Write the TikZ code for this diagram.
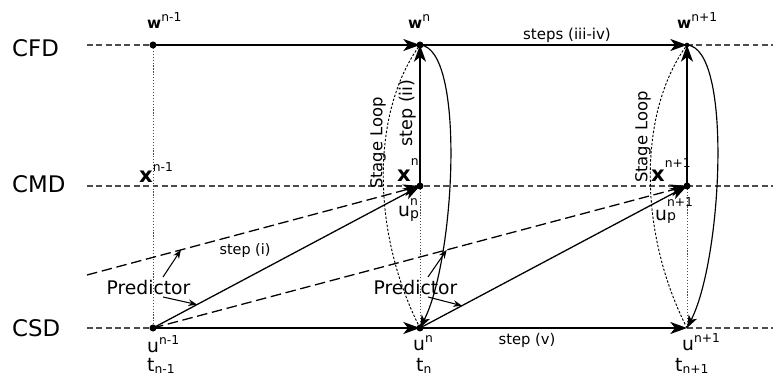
\documentclass[tikz,border=0pt]{standalone}
\usepackage{fontspec}
\setmainfont{DejaVu Sans}
\usetikzlibrary{arrows.meta,calc}

\newcommand{\tam}[1]{\fontsize{#1}{#1}\selectfont}
\newcommand{\wlbl}[1]{{\tam{13}\bfseries w}\raisebox{6pt}{\tam{10.5}#1}}
\newcommand{\xlbl}[2]{{\tam{18}\bfseries x}\raisebox{#2}{\tam{10.5}#1}}
\newcommand{\ulbl}[1]{{\tam{16}u}\raisebox{7.5pt}{\tam{10.5}#1}}
\newcommand{\tlbl}[1]{{\tam{16}t}\raisebox{-1pt}{\tam{10.5}#1}}
\newcommand{\uplbl}[3]{{\tam{16}u}\rlap{\raisebox{#3}{\tam{12}p}}\raisebox{#2}{\tam{10.5}#1}}

\begin{document}
\begin{tikzpicture}[x=0.03cm,y=-0.03cm,
	flecha/.style={line width=1.4pt,-{Stealth[length=5mm,width=3.6mm,inset=1.4mm]}},
	guia/.style={gray!60!black,line width=0.9pt,dash pattern=on 5pt off 3pt},
	prediccion/.style={line width=1.1pt,dash pattern=on 9pt off 4pt},
	punteada/.style={gray!60!black,line width=0.7pt,dash pattern=on 1pt off 1.5pt},
	lazo/.style={line width=1pt,-{Stealth[length=3.8mm,width=2.8mm,inset=1mm]}},
	puntero/.style={line width=0.9pt,-{Stealth[length=2.6mm,width=2mm]}},
	etiq/.style={inner sep=0pt,anchor=base west}]
	
	\useasboundingbox (0,0) rectangle (773,377);
	
	% Definir los puntos
	\coordinate (wA) at (153,45);   % w^{n-1}
	\coordinate (wB) at (420,45);   % w^n
	\coordinate (wC) at (687,45);   % w^{n+1}
	\coordinate (xA) at (153,186);  % x^{n-1}
	\coordinate (xB) at (420,186);  % x^n
	\coordinate (xC) at (687,186);  % x^{n+1}
	\coordinate (uA) at (153,328);  % u^{n-1}
	\coordinate (uB) at (420,328);  % u^n
	\coordinate (uC) at (687,328);  % u^{n+1}
	\coordinate (iF) at (87,45);  \coordinate (fF) at (773,45);
	\coordinate (iM) at (87,186); \coordinate (fM) at (773,186);
	\coordinate (iS) at (87,328); \coordinate (fS) at (773,328);
	\coordinate (iP) at (87,275);   % inicio prediccion previa
	
	% Niveles
	\node[etiq] (cfd) at (12,56.7) {\tam{19.5}CFD};
	\node[etiq] (cmd) at (12,192.7) {\tam{19.5}CMD};
	\node[etiq] (csd) at (12,336.7) {\tam{19.5}CSD};
	
	% Lineas guia
	\draw[guia] (iF) -- (wA);
	\draw[guia] (wC) -- (fF);
	\draw[guia] (iM) -- (fM);
	\draw[guia] (iS) -- (uA);
	\draw[guia] (uC) -- (fS);
	\draw[punteada] (wA) -- (uA);
	\draw[punteada] (xB) -- (uB);
	\draw[punteada] (xC) -- (uC);
	
	% Lazos de etapas
	\draw[punteada,black,line width=0.8pt,dash pattern=on 2pt off 1.5pt] (uB) .. controls (370,230) and (372,110) .. (wB);
	\draw[punteada,black,line width=0.8pt,dash pattern=on 2pt off 1.5pt] (uC) .. controls (637,230) and (639,110) .. (wC);
	\draw[lazo] (wB) .. controls (466,48) and (455,260) .. (uB);
	\draw[lazo] (wC) .. controls (733,48) and (722,260) .. (uC);
	
	% Avance en CFD y CSD
	\draw[flecha] (wA) -- (wB);
	\draw[flecha] (wB) -- (wC);
	\draw[flecha] (uA) -- (uB);
	\draw[flecha] (uB) -- (uC);
	
	% step (ii)
	\draw[flecha] (xB) -- (wB);
	\draw[flecha] (xC) -- (wC);
	
	% Prediccion
	\draw[prediccion,-{Stealth[length=5mm,width=3.6mm,inset=1.4mm]}] (iP) -- (xB) coordinate[pos=0.282] (pD1);
	\draw[prediccion,-{Stealth[length=5mm,width=3.6mm,inset=1.4mm]}] (uA) -- (xC) coordinate[pos=0.55] (pD2);
	\draw[flecha,line width=1.1pt] (uA) -- (xB) coordinate[pos=0.165] (pS1);
	\draw[flecha,line width=1.1pt] (uB) -- (xC) coordinate[pos=0.157] (pS2);
	
	% Dibujar los puntos
	\fill (wA) circle (3pt);
	\fill (wB) circle (3pt);
	\fill (wC) circle (2pt);
	\fill (xB) circle (3pt);
	\fill (xC) circle (3pt);
	\fill (uA) circle (3pt);
	\fill (uB) circle (3pt);
	
	% Etiquetas de los puntos
	\node[etiq] (lw1) at (147,29) {\wlbl{n-1}};
	\node[etiq] (lw2) at (408,29) {\wlbl{n}};
	\node[etiq] (lw3) at (677,29) {\wlbl{n+1}};
	\node[etiq] (lx1) at (139,183) {\xlbl{n-1}{10pt}};
	\node[etiq] (lx2) at (397,182) {\xlbl{n}{14pt}};
	\node[etiq] (lx3) at (651,182) {\xlbl{n+1}{12pt}};
	\node[etiq] (lup2) at (398,217) {\uplbl{n}{10pt}{-1.7pt}};
	\node[etiq] (lup3) at (655,221) {\uplbl{n+1}{12pt}{0pt}};
	\node[etiq] (lu1) at (147,353) {\ulbl{n-1}};
	\node[etiq] (lu2) at (413,351) {\ulbl{n}};
	\node[etiq] (lu3) at (682,351) {\ulbl{n+1}};
	\node[etiq] (lt1) at (147,372) {\tlbl{n-1}};
	\node[etiq] (lt2) at (416,372) {\tlbl{n}};
	\node[etiq] (lt3) at (675,372) {\tlbl{n+1}};
	
	% Pasos
	\node (ls34) at (567,35) {\tam{12.8}steps (iii-iv)};
	\node (ls1) at (245,251) {\tam{12.3}step (i)};
	\node (ls5) at (527,340) {\tam{12.6}step (v)};
	\node[rotate=90] (ls2) at (408,113) {\tam{15}step (ii)};
	\node[rotate=90] (lazo1) at (378,143) {\tam{14}Stage Loop};
	\node[rotate=90] (lazo2) at (643,137) {\tam{14}Stage Loop};
	
	% Predictor
	\node[inner sep=0pt] (pred1) at (148.5,288) {\tam{16}Predictor};
	\node[inner sep=0pt] (pred2) at (415.5,288) {\tam{16}Predictor};
	\draw[puntero] ($(pred1)+(14.5,-11)$) -- (pD1);
	\draw[puntero] ($(pred1)+(14.5,9)$) -- (pS1);
	\draw[puntero] ($(pred2)+(12.5,-11)$) -- (pD2);
	\draw[puntero] ($(pred2)+(12.5,9)$) -- (pS2);
	
\end{tikzpicture}
\end{document}
